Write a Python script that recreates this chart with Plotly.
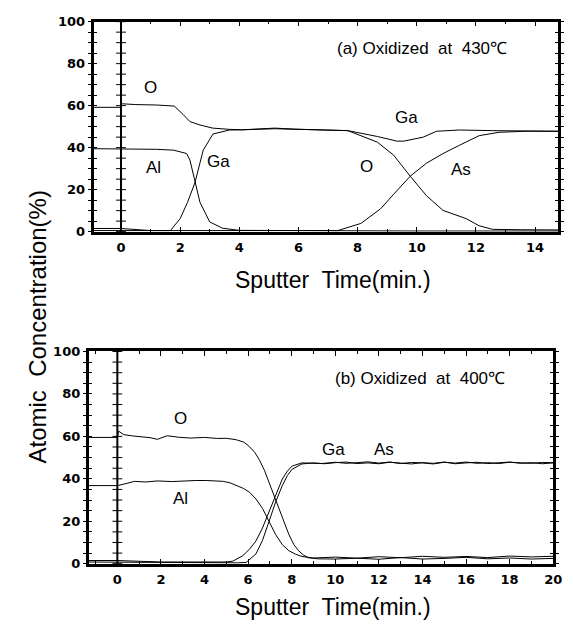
import numpy as np
import plotly.graph_objects as go

# ---------------- data: panel (a) oxidized at 430 C ----------------
a_O_t = [-0.93, 0, 0.02, 0.5, 1.2, 1.8, 2.1, 2.33, 2.67, 3.1, 3.67, 4.1, 5.2, 6.5, 7.67, 8.67, 9.22, 9.78, 10.33, 10.89, 11.67, 12.11, 12.56, 13.5, 14.78]
a_O_v = [59.2, 59.2, 60.9, 60.5, 60.3, 59.8, 55.8, 52.4, 50.8, 49.3, 48.7, 48.5, 49.0, 48.5, 48.1, 42.6, 36.4, 26.4, 17.1, 10.1, 6.2, 2.8, 1.1, 0.9, 0.8]

a_Al_t = [-0.93, 0, 0.05, 1.2, 1.78, 2.22, 2.33, 2.5, 2.67, 3.0, 3.44, 4.0, 6, 8, 10, 12, 14.78]
a_Al_v = [39.5, 39.5, 39.2, 39.2, 38.8, 37.2, 34.1, 23.3, 14.0, 4.6, 1.6, 0.6, 0.4, 0.4, 0.3, 0.3, 0.3]

a_Ga_t = [-0.93, 0, 1.0, 1.67, 2.0, 2.25, 2.5, 2.78, 3.11, 3.67, 4.11, 5.2, 5.89, 7.67, 8.67, 9.33, 9.56, 10.22, 10.67, 11.44, 12.56, 14.78]
a_Ga_v = [1.5, 1.5, 0.5, 0.5, 6.2, 14.0, 23.3, 38.8, 46.5, 48.4, 48.5, 49.3, 48.8, 48.1, 45.3, 43.1, 43.1, 45.0, 47.8, 48.4, 48.1, 47.8]

a_As_t = [-0.93, 0, 7.33, 8.11, 8.78, 9.22, 9.78, 10.33, 10.89, 11.44, 12.11, 12.78, 13.67, 14.78]
a_As_v = [0.5, 0.5, 0.5, 3.9, 10.9, 17.8, 26.4, 32.6, 37.2, 41.1, 45.7, 47.3, 47.8, 47.8]

# ---------------- data: panel (b) oxidized at 400 C ----------------
b_O_t = [-1.32, 0, 0.05, 0.3, 0.7, 1.09, 1.5, 1.84, 2.29, 2.8, 3.35, 4.0, 4.6, 5.0, 5.46, 5.8, 6.06, 6.3, 6.51, 6.75, 6.96, 7.2, 7.41, 7.65, 7.87, 8.1, 8.32, 8.55, 8.77, 9.2, 10, 11, 12, 13, 14, 15, 16, 17, 18, 19, 20]
b_O_v = [59.5, 59.5, 62.5, 60.8, 60.2, 59.8, 59.4, 58.6, 60.3, 59.6, 59.2, 59.5, 59.0, 59.1, 58.4, 57.3, 55.2, 52.5, 49.1, 44.0, 38.3, 32.0, 26.1, 19.5, 13.8, 9.0, 6.1, 4.0, 2.8, 2.3, 2.2, 2.6, 2.1, 2.9, 2.2, 2.5, 3.0, 2.3, 2.7, 2.2, 2.5]

b_Al_t = [-1.32, 0, 0.3, 0.79, 1.3, 1.84, 2.5, 3.0, 3.6, 4.1, 4.5, 4.86, 5.2, 5.46, 5.8, 6.06, 6.36, 6.66, 6.96, 7.26, 7.57, 7.87, 8.17, 8.47, 9.0, 10, 11, 12, 13, 14, 15, 16, 17, 18, 19, 20]
b_Al_v = [36.8, 36.8, 37.5, 38.8, 38.5, 39.0, 38.7, 39.0, 39.2, 39.2, 39.0, 38.8, 38.0, 36.8, 35.4, 33.7, 30.5, 26.1, 20.0, 13.8, 9.0, 6.1, 4.5, 3.4, 2.7, 3.1, 2.6, 3.3, 2.8, 3.5, 3.0, 3.4, 2.9, 3.6, 3.2, 3.5]

b_Ga_t = [-1.32, 0, 2, 4, 5.0, 5.3, 5.76, 6.06, 6.36, 6.66, 6.96, 7.26, 7.57, 7.8, 8.02, 8.47, 9.37, 10, 10.5, 11, 11.5, 12, 12.5, 13, 13.5, 14, 14.5, 15, 15.5, 16, 16.5, 17, 17.5, 18, 18.5, 19, 19.5, 20]
b_Ga_v = [1.5, 1.5, 0.8, 0.6, 0.8, 1.2, 3.8, 6.8, 10.7, 16.8, 24.5, 32.5, 39.9, 43.6, 46.0, 47.5, 47.2, 47.8, 47.3, 47.6, 48.0, 47.4, 47.9, 47.2, 47.7, 47.5, 47.0, 47.8, 47.4, 47.9, 47.3, 47.6, 47.2, 47.8, 47.5, 47.3, 47.7, 47.6]

b_As_t = [-1.32, 0, 2, 4, 5.5, 5.91, 6.36, 6.66, 6.96, 7.26, 7.57, 7.8, 8.02, 8.47, 9.0, 9.5, 10, 10.5, 11, 11.5, 12, 12.5, 13, 13.5, 14, 14.5, 15, 15.5, 16, 16.5, 17, 17.5, 18, 18.5, 19, 19.5, 20]
b_As_v = [0.8, 0.8, 0.5, 0.5, 0.4, 0.6, 4.6, 11.0, 19.9, 29.0, 36.8, 41.5, 44.5, 47.0, 47.5, 47.1, 47.6, 47.9, 47.2, 47.5, 47.1, 47.8, 47.4, 47.0, 47.6, 47.3, 47.9, 47.1, 47.5, 47.8, 47.2, 47.4, 47.9, 47.3, 47.6, 47.1, 47.5]

# labels (text, x, y)
a_labels = [("O", 1.0, 68.5), ("Al", 1.1, 30.5), ("Ga", 3.3, 33.5), ("Ga", 9.67, 54.5), ("O", 8.3, 31), ("As", 11.5, 29.5)]
b_labels = [("O", 2.9, 68.5), ("Al", 2.9, 30.5), ("Ga", 9.9, 54), ("As", 12.25, 54)]
a_title = ("(a) Oxidized  at  430\u2103", 10.17, 87)
b_title = ("(b) Oxidized  at  400\u2103", 13.9, 87.5)
x_ticks_a = [0, 2, 4, 6, 8, 10, 12, 14]
x_ticks_b = [0, 2, 4, 6, 8, 10, 12, 14, 16, 18, 20]
y_tick_step = 5
y_label_step = 20

W, H = 573, 643
FONT = "Liberation Sans, Arial, sans-serif"
TICKFONT = dict(family="DejaVu Sans, sans-serif", size=13, color="black", weight="bold")

y_tickvals = list(np.arange(0, 100.01, y_tick_step))
y_ticktext = [str(int(v)) if v % y_label_step == 0 else "" for v in y_tickvals]

fig = go.Figure()

def add_curve(t, v, xa, ya):
    fig.add_trace(go.Scatter(x=t, y=v, mode="lines", line=dict(color="black", width=1),
                             xaxis=xa, yaxis=ya, showlegend=False, hoverinfo="skip"))

for t, v in [(a_O_t, a_O_v), (a_Al_t, a_Al_v), (a_Ga_t, a_Ga_v), (a_As_t, a_As_v)]:
    add_curve(t, v, "x", "y")
for t, v in [(b_O_t, b_O_v), (b_Al_t, b_Al_v), (b_Ga_t, b_Ga_v), (b_As_t, b_As_v)]:
    add_curve(t, v, "x2", "y2")

# invisible traces so the overlay (inside-tick) axes get drawn
for xa, ya, t, v in [("x", "y3", a_O_t, a_O_v), ("x2", "y4", b_O_t, b_O_v)]:
    fig.add_trace(go.Scatter(x=t, y=v, mode="lines", line=dict(color="rgba(0,0,0,0)", width=1),
                             xaxis=xa, yaxis=ya, showlegend=False, hoverinfo="skip"))

# tick marks on the vertical x=0 line
for xa, ya in [("x", "y"), ("x2", "y2")]:
    fig.add_trace(go.Scatter(x=[0] * len(y_tickvals), y=y_tickvals, mode="markers",
                             marker=dict(symbol="line-ew", size=7, line=dict(color="black", width=1)),
                             xaxis=xa, yaxis=ya, showlegend=False, hoverinfo="skip", cliponaxis=False))

def px2x(p):
    return p / W

def px2y(p):
    return 1 - p / H

xcommon = dict(showline=True, linecolor="black", linewidth=2.5, mirror="ticks",
               showgrid=False, zeroline=False, ticks="inside", tickcolor="black", ticklen=5,
               tickfont=TICKFONT, ticklabelstandoff=2)
ycommon = dict(showline=True, linecolor="black", linewidth=2.5, mirror="ticks",
               showgrid=False, zeroline=False, ticks="outside", tickcolor="black", ticklen=3,
               tickvals=y_tickvals, ticktext=y_ticktext, tickfont=TICKFONT, range=[0, 100])
yover = dict(showline=False, showgrid=False, zeroline=False, ticks="inside", tickcolor="black",
             ticklen=3, mirror="ticks", tickvals=y_tickvals, showticklabels=False, range=[0, 100])

fig.update_layout(
    width=W, height=H, margin=dict(l=0, r=0, t=0, b=0),
    paper_bgcolor="white", plot_bgcolor="white",
    xaxis=dict(domain=[px2x(95), px2x(567)], range=[-0.93, 14.78], anchor="y",
               tickvals=x_ticks_a, minor=dict(dtick=1, ticklen=3, ticks="inside", tickcolor="black"),
               **xcommon),
    yaxis=dict(domain=[px2y(230), px2y(15)], anchor="x", **ycommon),
    yaxis3=dict(domain=[px2y(230), px2y(15)], anchor="x", overlaying="y", **yover),
    xaxis2=dict(domain=[px2x(90), px2x(562)], range=[-1.32, 20], anchor="y2",
                tickvals=x_ticks_b, minor=dict(dtick=1, ticklen=3, ticks="inside", tickcolor="black"),
                **xcommon),
    yaxis2=dict(domain=[px2y(570), px2y(352.7)], anchor="x2", **ycommon),
    yaxis4=dict(domain=[px2y(570), px2y(352.7)], anchor="x2", overlaying="y2", **yover),
)

# vertical line at x = 0
for xa, ya in [("x", "y"), ("x2", "y2")]:
    fig.add_shape(type="line", xref=xa, yref=ya + " domain", x0=0, x1=0, y0=0, y1=1,
                  line=dict(color="black", width=2))

lab_font = dict(family=FONT, size=17, color="black")
for txt, x, y in a_labels:
    fig.add_annotation(text=txt, x=x, y=y, xref="x", yref="y", showarrow=False, font=lab_font)
for txt, x, y in b_labels:
    fig.add_annotation(text=txt, x=x, y=y, xref="x2", yref="y2", showarrow=False, font=lab_font)
fig.add_annotation(text=a_title[0], x=a_title[1], y=a_title[2], xref="x", yref="y", showarrow=False, font=lab_font)
fig.add_annotation(text=b_title[0], x=b_title[1], y=b_title[2], xref="x2", yref="y2", showarrow=False, font=lab_font)

title_font = dict(family=FONT, size=23, color="black")
fig.add_annotation(text="Sputter  Time(min.)", x=px2x(338), y=px2y(280), xref="paper", yref="paper",
                   showarrow=False, font=title_font)
fig.add_annotation(text="Sputter  Time(min.)", x=px2x(338), y=px2y(630), xref="paper", yref="paper",
                   showarrow=False, font=title_font)
fig.add_annotation(text="Atomic  Concentration(%)", x=px2x(22), y=px2y(328), xref="paper", yref="paper",
                   showarrow=False, textangle=-90, font=dict(family=FONT, size=24, color="black"))

fig.write_html("out.html", config={"displayModeBar": False},
               post_script="document.body.style.margin='0';document.body.style.overflow='hidden';")
